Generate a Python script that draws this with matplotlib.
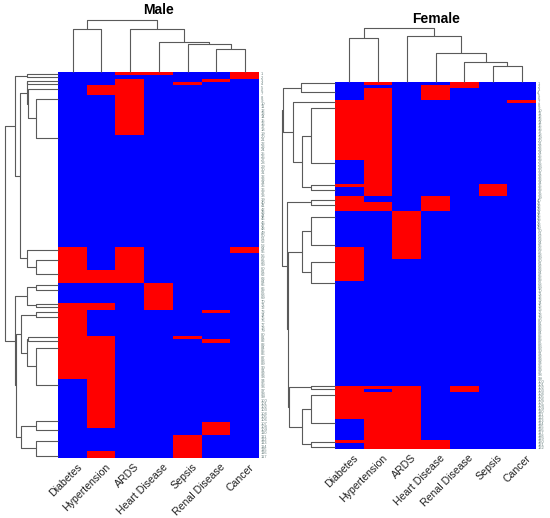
import numpy as np
import matplotlib
matplotlib.use("Agg")
import matplotlib.pyplot as plt
import matplotlib.transforms as mtransforms
from matplotlib.colors import ListedColormap

plt.rcParams['font.family'] = ['Liberation Sans', 'DejaVu Sans']

# comorbidity columns, in the order each heatmap shows them
male_cols = ["Diabetes", "Hypertension", "ARDS", "Heart Disease", "Sepsis", "Renal Disease", "Cancer"]
female_cols = ["Diabetes", "Hypertension", "ARDS", "Heart Disease", "Renal Disease", "Sepsis", "Cancer"]

# row blocks top to bottom: how many patients share each 0/1 pattern (one char per column)
male_counts = [1, 1, 1, 1, 3, 12, 34, 2, 5, 4, 6, 2, 1, 7, 1, 1, 11, 13, 2, 2, 5, 2]
male_patterns = ["0011001", "0000001", "0010010", "0010100", "0110000", "0010000", "0000000",
                 "1010001", "1010000", "1110000", "0001000", "1101000", "1000010", "1000000",
                 "1100100", "1100010", "1100000", "0100000", "0100010", "0000010", "0000100",
                 "0100100"]

female_counts = [1, 1, 4, 1, 19, 8, 1, 3, 2, 3, 12, 4, 7, 35, 1, 1, 9, 7, 1, 2]
female_patterns = ["0100100", "0001100", "0101000", "1100001", "1100000", "0100000", "1100010",
                   "0100010", "1001000", "1101000", "0010000", "1010000", "1000000", "0000000",
                   "1110100", "1010100", "1110000", "0110000", "1111000", "0111000"]

# row dendrograms: leaf positions (in rows) and merges (child, child, height)
male_row_leaves = [0.5, 1.5, 2.5, 3.5, 5.0, 8.0, 20.0, 54.0, 56.9, 61.1, 64.5, 66.0, 70.2, 71.2,
                   72.7, 74.4, 80.5, 81.5, 83.6, 94.8, 106.0, 108.7, 111.9, 116.5]
male_row_merges = [(0, 1, 31.7), (2, 3, 31.0), (5, 6, 22.3), (4, 26, 30.0), (25, 27, 31.7),
                   (8, 9, 22.3), (7, 29, 31.7), (28, 30, 38.3), (24, 31, 43.3),
                   (10, 11, 22.3), (12, 13, 22.3), (33, 34, 31.7), (14, 15, 22.3),
                   (16, 17, 30.5), (18, 19, 22.3), (37, 38, 31.7), (36, 39, 37.7),
                   (20, 21, 22.3), (22, 23, 22.3), (41, 42, 37.7), (40, 43, 42.5),
                   (35, 44, 43.3), (32, 45, 53.3)]

female_row_leaves = [0.5, 3.5, 6.6, 8.9, 27.1, 34.3, 36.0, 39.3, 41.0, 44.9, 54.3, 59.8, 67.0,
                     101.0, 102.0, 104.2, 113.6, 119.7, 121.3]
female_row_merges = [(0, 1, 34.0), (3, 4, 24.0), (5, 6, 24.0), (20, 21, 33.3), (2, 22, 41.7),
                     (19, 23, 52.5), (7, 8, 24.0), (9, 10, 24.0), (11, 12, 24.0),
                     (26, 27, 33.3), (13, 14, 24.0), (15, 16, 24.0), (17, 18, 24.0),
                     (30, 31, 33.3), (29, 32, 46.5), (28, 33, 47.0), (25, 34, 47.7),
                     (24, 35, 53.3)]

# column dendrograms (leaves are the 7 columns)
male_col_merges = [(5, 6, 23.3), (4, 7, 28.3), (3, 8, 30.0), (2, 9, 43.3), (0, 1, 43.3), (11, 10, 52.7)]
female_col_merges = [(5, 6, 15.7), (4, 7, 20.0), (3, 8, 28.3), (2, 9, 46.0), (0, 1, 43.3), (11, 10, 53.3)]

W, H = 550, 518
cmap = ListedColormap(["#0000FF", "#FF0000"])
line_col = "#5a5a5a"


def build_matrix(counts, patterns):
    rows = [[int(c) for c in p] for p in patterns]
    return np.repeat(np.array(rows), counts, axis=0)


def draw_dendro(ax, leaves, merges, vertical_leaves):
    pos = list(leaves)
    hgt = [0.0] * len(leaves)
    for a, b, h in merges:
        p = [pos[a], pos[a], pos[b], pos[b]]
        q = [hgt[a], h, h, hgt[b]]
        if vertical_leaves:
            ax.plot(q, p, color=line_col, lw=0.8, solid_capstyle='butt', clip_on=False)
        else:
            ax.plot(p, q, color=line_col, lw=0.8, solid_capstyle='butt', clip_on=False)
        pos.append((pos[a] + pos[b]) / 2)
        hgt.append(h)


def panel(title, cols, counts, patterns, row_leaves, row_merges, col_merges,
          hx0, hx1, hy0, hy1, dx0, title_xy):
    mat = build_matrix(counts, patterns)
    n = mat.shape[0]
    left, width = hx0 / W, (hx1 - hx0) / W
    bottom, height = 1 - hy1 / H, (hy1 - hy0) / H

    ax = fig.add_axes([left, bottom, width, height])
    ax.imshow(mat, cmap=cmap, vmin=0, vmax=1, aspect='auto', interpolation='nearest',
              extent=(0, len(cols), n, 0))
    for s in ax.spines.values():
        s.set_visible(False)
    ax.set_xticks(np.arange(len(cols)) + 0.5)
    ax.set_xticklabels(cols, rotation=45, ha='right', rotation_mode='anchor',
                       fontsize=7.6, color='#222222')
    ax.tick_params(axis='x', length=0, pad=3)
    shift = mtransforms.ScaledTranslation(4 / 100, 0, fig.dpi_scale_trans)
    for lab in ax.get_xticklabels():
        lab.set_transform(lab.get_transform() + shift)
    ax.yaxis.tick_right()
    ax.set_yticks(np.arange(n) + 0.5)
    ax.set_yticklabels([str(i + 1) for i in range(n)])
    ax.tick_params(axis='y', length=0, labelsize=3.0, labelcolor='#708585', pad=1)

    # row dendrogram on the left
    rax = fig.add_axes([dx0 / W, bottom, (hx0 - dx0) / W, height])
    draw_dendro(rax, row_leaves, row_merges, True)
    rax.set_xlim(hx0 - dx0, 0)
    rax.set_ylim(n, 0)
    rax.axis('off')

    # column dendrogram on top
    cax = fig.add_axes([left, 1 - hy0 / H, width, 60 / H])
    draw_dendro(cax, [i + 0.5 for i in range(len(cols))], col_merges, False)
    cax.set_xlim(0, len(cols))
    cax.set_ylim(0, 60)
    cax.axis('off')

    fig.text(title_xy[0] / W, 1 - title_xy[1] / H, title, ha='center', va='center',
             fontsize=10, fontweight='bold')


fig = plt.figure(figsize=(W / 100, H / 100), dpi=100)

panel("Male", male_cols, male_counts, male_patterns, male_row_leaves, male_row_merges,
      male_col_merges, 58.3, 259.3, 72.3, 457.7, 0, (158, 9.5))
panel("Female", female_cols, female_counts, female_patterns, female_row_leaves,
      female_row_merges, female_col_merges, 335, 536, 81.7, 448.7, 275, (436, 19))

fig.savefig("out.png", dpi=100)
